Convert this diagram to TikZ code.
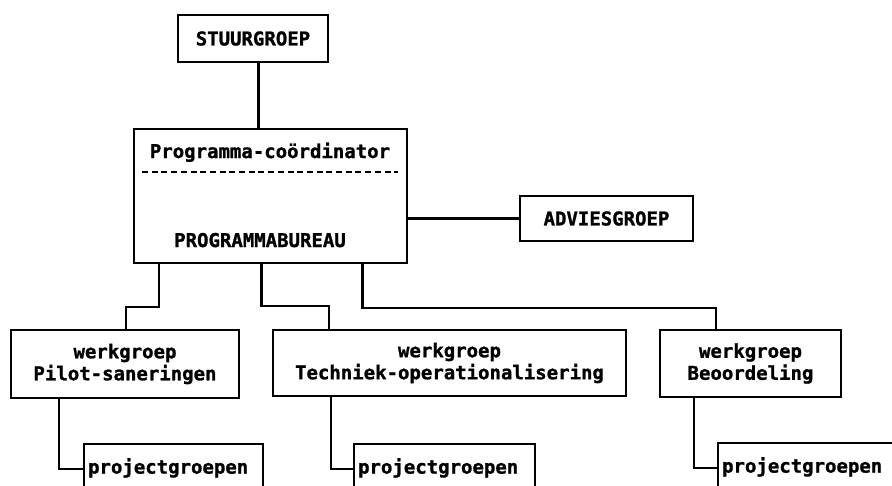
\documentclass[tikz,border=0pt]{standalone}
\usepackage{fontspec}
\setmonofont{DejaVu Sans Mono}[BoldFeatures={FakeBold=1.2}]
\begin{document}
\begin{tikzpicture}[x=1pt,y=-1pt,
  every node/.style={font=\ttfamily\bfseries\fontsize{19}{22}\selectfont},
  box/.style={draw, line width=2.2pt, inner sep=0pt, align=center},
  conn/.style={line width=2.2pt},
  pgbox/.style={draw, line width=2.2pt, anchor=north west, inner xsep=4pt, inner ysep=3pt,
                text height=26.5pt, text depth=30pt, align=left}]
\clip (0,0) rectangle (892,485);
% top
\node[box, minimum width=150pt, minimum height=47pt] (stuur) at (253,38.5) {STUURGROEP};
\node[box, minimum width=273pt, minimum height=134pt] (main) at (270.5,196) {};
\node[anchor=base, inner sep=0pt] (coord) at (270,158) {Programma-coördinator};
\node[anchor=base, inner sep=0pt] (bureau) at (260,247) {PROGRAMMABUREAU};
\coordinate (dashA) at (142,172);
\coordinate (dashB) at (398,172);
\draw[conn, dash pattern=on 6pt off 3.7pt] (dashA) -- (dashB);
\node[box, minimum width=173pt, minimum height=45pt] (advies) at (606.5,218.5) {ADVIESGROEP};
% werkgroepen
\node[box, minimum width=228pt, minimum height=68pt] (wg1) at (125,364) {werkgroep\\Pilot-saneringen};
\node[box, minimum width=353pt, minimum height=66pt] (wg2) at (449.5,363) {werkgroep\\Techniek-operationalisering};
\node[box, minimum width=181pt, minimum height=67pt] (wg3) at (750.5,363.5) {werkgroep\\Beoordeling};
% projectgroepen
\node[pgbox, text width=171pt] (pg1) at (83,443) {projectgroepen};
\node[pgbox, text width=173pt] (pg2) at (353,443) {projectgroepen};
\node[pgbox, text width=171pt] (pg3) at (717,442) {projectgroepen};
% connectors
\draw[conn] ([xshift=5.5pt]stuur.south) -- ([xshift=5.5pt]stuur.south |- main.north);
\draw[conn] (advies.west) -- (advies.west -| main.east);
\draw[conn] ([xshift=-111.5pt]main.south) -- ++(0,43) -| ([xshift=1pt]wg1.north);
\draw[conn] ([xshift=-9pt]main.south) -- ++(0,42) -| ([xshift=-120.5pt]wg2.north);
\draw[conn] ([xshift=92pt]main.south) -- ++(0,44) -| ([xshift=-34.5pt]wg3.north);
\draw[conn] ([xshift=-66pt]wg1.south) |- ([yshift=5pt]pg1.base west);
\draw[conn] ([xshift=-118.5pt]wg2.south) |- ([yshift=5pt]pg2.base west);
\draw[conn] ([xshift=-56.5pt]wg3.south) |- ([yshift=5pt]pg3.base west);
\end{tikzpicture}
\end{document}
